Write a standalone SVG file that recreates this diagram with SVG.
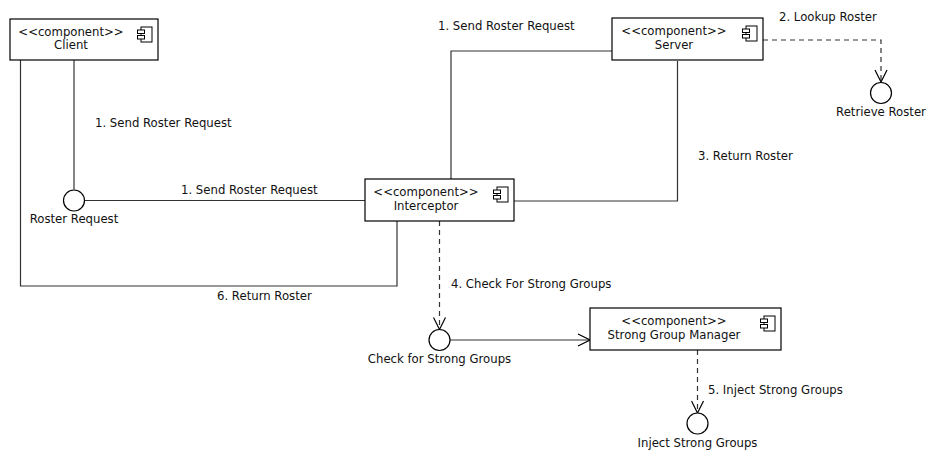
<svg xmlns="http://www.w3.org/2000/svg" xmlns:xlink="http://www.w3.org/1999/xlink" width="928" height="450" viewBox="0 0 928 450">
  <style>
    text { font-family: "DejaVu Sans", "Liberation Sans", sans-serif; font-size: 11.7px; fill: #111; }
    .mid { text-anchor: middle; }
    .box { fill: #fff; stroke: #000; stroke-width: 1.2; }
    .icon rect { fill: #fff; stroke: #000; stroke-width: 1; }
    .line { fill: none; stroke: #333; stroke-width: 1.2; }
    .dash { fill: none; stroke: #333; stroke-width: 1.2; stroke-dasharray: 5 4; }
    .iface { fill: #fff; stroke: #000; stroke-width: 1.2; }
  </style>
  <defs>
    <!-- UML component glyph; origin at the box's top-right corner -->
    <g id="compIcon" class="icon">
      <rect x="-17" y="8" width="11" height="15"/>
      <rect x="-20.5" y="11" width="7" height="3.5"/>
      <rect x="-20.5" y="16.5" width="7" height="3.5"/>
    </g>
    <marker id="open" viewBox="0 0 14 14" refX="13" refY="7" markerWidth="14" markerHeight="14" markerUnits="userSpaceOnUse" orient="auto">
      <path d="M1,1 L13,7 L1,13" fill="none" stroke="#000" stroke-width="1.2"/>
    </marker>
  </defs>

  <rect width="928" height="450" fill="#fff"/>

  <g id="connectors">
    <!-- Client -> Roster Request -->
    <path class="line" d="M74,60 V189.5"/>
    <!-- Roster Request -> Interceptor -->
    <path class="line" d="M84.5,200.5 H365"/>
    <!-- Interceptor -> Client (return) -->
    <path class="line" d="M397,221 V286 H20.5 V60"/>
    <!-- Interceptor -> Server -->
    <path class="line" d="M451,179 V51 H612"/>
    <!-- Server -> Interceptor (return) -->
    <path class="line" d="M677.5,61 V201 H514"/>
    <!-- Server -> Retrieve Roster -->
    <path class="dash" d="M763,40 H881 V82" marker-end="url(#open)"/>
    <!-- Interceptor -> Check for Strong Groups -->
    <path class="dash" d="M439.5,221 V329.5" marker-end="url(#open)"/>
    <!-- Check for Strong Groups -> Strong Group Manager -->
    <path class="line" d="M450,340 H590" marker-end="url(#open)"/>
    <!-- Strong Group Manager -> Inject Strong Groups -->
    <path class="dash" d="M697.5,350 V413" marker-end="url(#open)"/>

    <text x="95" y="127">1. Send Roster Request</text>
    <text x="181" y="194">1. Send Roster Request</text>
    <text x="217" y="300">6. Return Roster</text>
    <text x="438" y="30">1. Send Roster Request</text>
    <text x="698" y="160">3. Return Roster</text>
    <text x="779" y="21">2. Lookup Roster</text>
    <text x="451" y="288">4. Check For Strong Groups</text>
    <text x="708" y="394">5. Inject Strong Groups</text>
  </g>

  <g id="client">
    <rect class="box" x="10" y="19" width="148" height="41"/>
    <text class="mid" x="71" y="35.5">&lt;&lt;component&gt;&gt;</text>
    <text class="mid" x="71" y="49">Client</text>
    <use xlink:href="#compIcon" x="158" y="19"/>
  </g>

  <g id="server">
    <rect class="box" x="612" y="18" width="151" height="42"/>
    <text class="mid" x="674" y="35">&lt;&lt;component&gt;&gt;</text>
    <text class="mid" x="674" y="48.5">Server</text>
    <use xlink:href="#compIcon" x="763" y="18"/>
  </g>

  <g id="interceptor">
    <rect class="box" x="365" y="179" width="149" height="42"/>
    <text class="mid" x="426" y="195.5">&lt;&lt;component&gt;&gt;</text>
    <text class="mid" x="426" y="209.5">Interceptor</text>
    <use xlink:href="#compIcon" x="514" y="179"/>
  </g>

  <g id="strong-group-manager">
    <rect class="box" x="590" y="308" width="191" height="42"/>
    <text class="mid" x="674" y="324.5">&lt;&lt;component&gt;&gt;</text>
    <text class="mid" x="674" y="338.5">Strong Group Manager</text>
    <use xlink:href="#compIcon" x="781" y="308"/>
  </g>

  <g id="roster-request">
    <circle class="iface" cx="74" cy="200.5" r="10.5"/>
    <text class="mid" x="74" y="223">Roster Request</text>
  </g>

  <g id="retrieve-roster">
    <circle class="iface" cx="881" cy="93" r="10.5"/>
    <text class="mid" x="881" y="116">Retrieve Roster</text>
  </g>

  <g id="check-for-strong-groups">
    <circle class="iface" cx="439.5" cy="340" r="10.5"/>
    <text class="mid" x="439.5" y="363">Check for Strong Groups</text>
  </g>

  <g id="inject-strong-groups">
    <circle class="iface" cx="697.5" cy="423.5" r="10.5"/>
    <text class="mid" x="697.5" y="447">Inject Strong Groups</text>
  </g>
</svg>
